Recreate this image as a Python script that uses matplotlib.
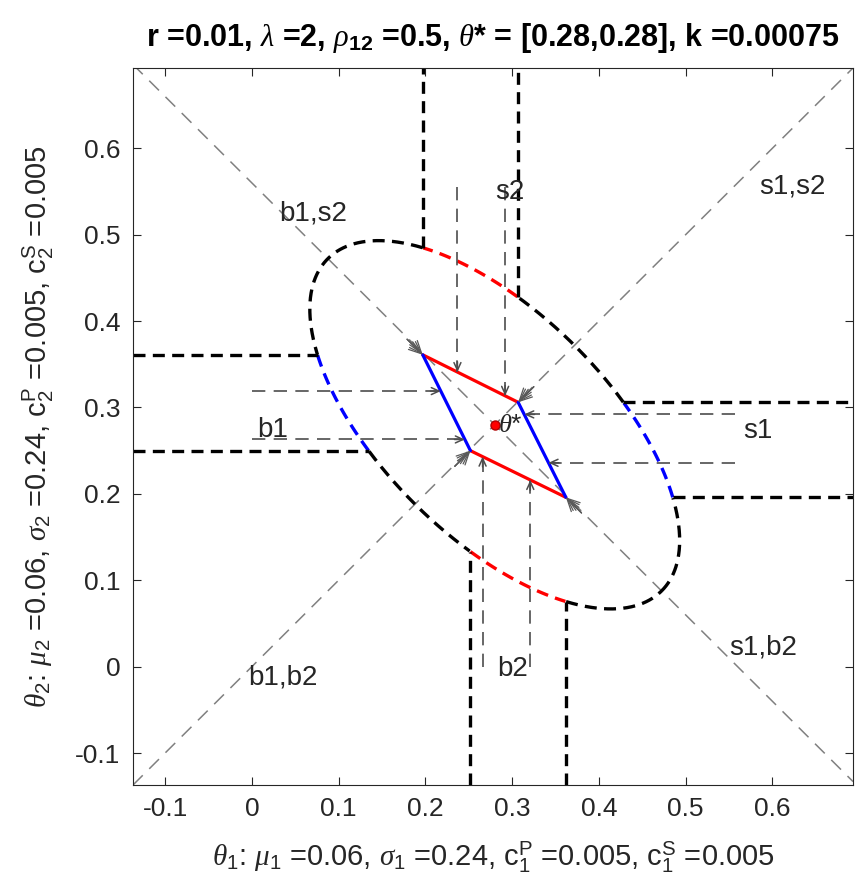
import numpy as np
import matplotlib
matplotlib.use('Agg')
import matplotlib.pyplot as plt

plt.rcParams['font.family'] = ['Liberation Sans', 'DejaVu Sans']
plt.rcParams['mathtext.fontset'] = 'custom'
plt.rcParams['mathtext.rm'] = 'Liberation Sans'
plt.rcParams['mathtext.it'] = 'Liberation Serif:italic'
plt.rcParams['mathtext.bf'] = 'Liberation Sans:bold'

# ---------------- data ----------------
theta_star = [0.28, 0.28]
# parallelogram vertices: TL, TR, BR, BL
vert_x = [0.197, 0.307, 0.362, 0.252]
vert_y = [0.361, 0.306, 0.196, 0.250]
# ellipse semi-axes (major along (1,-1), minor along (1,1))
ell_major = 0.272
ell_minor = 0.130
# thin arrows
top_arrow_x = [0.237, 0.292]
top_arrow_start = 0.555
bottom_arrow_x = [0.266, 0.321]
bottom_arrow_start = 0.0
left_arrow_y = [0.319, 0.263]
left_arrow_start = 0.0
right_arrow_y = [0.292, 0.236]
right_arrow_start = 0.557
# region labels
region_text = ['b1,s2', 's2', 's1,s2', 'b1', 's1', 'b1,b2', 'b2', 's1,b2']
region_x = [0.071, 0.297, 0.623, 0.024, 0.583, 0.036, 0.300, 0.589]
region_y = [0.525, 0.550, 0.556, 0.274, 0.273, -0.012, -0.003, 0.022]
ticks = [-0.1, 0, 0.1, 0.2, 0.3, 0.4, 0.5, 0.6]
tick_labels = ['-0.1', '0', '0.1', '0.2', '0.3', '0.4', '0.5', '0.6']
lim = [-0.137, 0.693]

TXT = '0.15'
fig = plt.figure(figsize=(8.55, 8.9), dpi=100)
ax = fig.add_axes([133/855, 105/890, 720/855, 717/890])
ax.set_xlim(lim)
ax.set_ylim(lim)

cx, cy = theta_star
s2 = np.sqrt(2)

def cross(d):
    # offsets along the other coordinate where a line at offset d meets the ellipse
    ia = 1/(2*ell_major**2); ib = 1/(2*ell_minor**2)
    A = ia + ib
    B = d*(2*ib - 2*ia)
    C = d*d*(ia + ib) - 1
    disc = np.sqrt(B*B - 4*A*C)
    return (-B - disc)/(2*A), (-B + disc)/(2*A)

# diagonal guide lines
dg = dict(color='0.5', lw=1.1, dashes=(9, 6))
ax.plot(lim, lim, **dg)
ax.plot(lim, [cx+cy-lim[0], cx+cy-lim[1]], **dg)

# ellipse
t = np.linspace(0, 2*np.pi, 1441)
u = ell_major*np.cos(t); v = ell_minor*np.sin(t)
ex = cx + (u+v)/s2
ey = cy + (-u+v)/s2
red_top = (ex >= vert_x[0]) & (ex <= vert_x[1]) & (ey > cy)
red_bot = (ex >= vert_x[3]) & (ex <= vert_x[2]) & (ey < cy)
blue_l = (ey >= vert_y[3]) & (ey <= vert_y[0]) & (ex < cx)
blue_r = (ey >= vert_y[2]) & (ey <= vert_y[1]) & (ex > cx)
colored = red_top | red_bot | blue_l | blue_r
hv = dict(lw=2.4, dashes=(3.6, 2.2), solid_capstyle='butt', dash_capstyle='butt')
ax.plot(np.where(colored, np.nan, ex), np.where(colored, np.nan, ey), color='k', **hv)
for m, c in [(red_top, 'r'), (red_bot, 'r'), (blue_l, 'b'), (blue_r, 'b')]:
    ax.plot(ex[m], ey[m], color=c, **hv)

# heavy boundary lines
for x0 in [vert_x[0], vert_x[1]]:
    lo, hi = cross(x0 - cx)
    ax.plot([x0, x0], [cy+hi, lim[1]], color='k', **hv)
for x0 in [vert_x[3], vert_x[2]]:
    lo, hi = cross(x0 - cx)
    ax.plot([x0, x0], [lim[0], cy+lo], color='k', **hv)
for y0 in [vert_y[0], vert_y[3]]:
    lo, hi = cross(y0 - cy)
    ax.plot([lim[0], cx+lo], [y0, y0], color='k', **hv)
for y0 in [vert_y[1], vert_y[2]]:
    lo, hi = cross(y0 - cy)
    ax.plot([cx+hi, lim[1]], [y0, y0], color='k', **hv)

# parallelogram
px = vert_x + [vert_x[0]]
py = vert_y + [vert_y[0]]
ax.plot([px[0], px[1]], [py[0], py[1]], color='r', lw=2.3, solid_capstyle='round')
ax.plot([px[3], px[2]], [py[3], py[2]], color='r', lw=2.3, solid_capstyle='round')
ax.plot([px[0], px[3]], [py[0], py[3]], color='b', lw=2.3, solid_capstyle='round')
ax.plot([px[1], px[2]], [py[1], py[2]], color='b', lw=2.3, solid_capstyle='round')

def interp_edge(p, q, val, axis):
    # point on segment p-q with coordinate[axis]==val
    f = (val - p[axis])/(q[axis]-p[axis])
    return p[1-axis] + f*(q[1-axis]-p[1-axis])

V = list(zip(vert_x, vert_y))
thin = dict(color='0.3', lw=1.2, dashes=(8, 5))
head = dict(arrowstyle='->,head_length=0.55,head_width=0.25', color='0.3', lw=1.1,
            shrinkA=0, shrinkB=0)

def small_arrow(x1, y1, dx, dy):
    ax.annotate('', xy=(x1, y1), xytext=(x1-dx, y1-dy), arrowprops=head)

for xa in top_arrow_x:
    ye = interp_edge(V[0], V[1], xa, 0)
    ax.plot([xa, xa], [top_arrow_start, ye], **thin)
    small_arrow(xa, ye, 0, -0.012)
for xa in bottom_arrow_x:
    ye = interp_edge(V[3], V[2], xa, 0)
    ax.plot([xa, xa], [bottom_arrow_start, ye], **thin)
    small_arrow(xa, ye, 0, 0.012)
for ya in left_arrow_y:
    xe = interp_edge(V[0], V[3], ya, 1)
    ax.plot([left_arrow_start, xe], [ya, ya], **thin)
    small_arrow(xe, ya, 0.012, 0)
for ya in right_arrow_y:
    xe = interp_edge(V[1], V[2], ya, 1)
    ax.plot([right_arrow_start, xe], [ya, ya], **thin)
    small_arrow(xe, ya, -0.012, 0)

# multi-heads along diagonals at vertices
dirs = [(1, -1), (-1, -1), (-1, 1), (1, 1)]
for (vx, vy), (dx, dy) in zip(V, dirs):
    for hw, hl in [(0.15, 0.9), (0.3, 0.9), (0.45, 0.9)]:
        ax.annotate('', xy=(vx, vy), xytext=(vx - dx*0.018, vy - dy*0.018),
                    arrowprops=dict(arrowstyle='->,head_length=%g,head_width=%g' % (hl, hw),
                                    color='0.35', lw=0.9, shrinkA=0, shrinkB=0))

# theta star
ax.plot([cx], [cy], 'o', color='r', mec='#b00000', ms=6.5)
ax.text(cx+0.004, cy, r'$\theta$*', fontsize=19, color=TXT, ha='left', va='center')

for s, x, y in zip(region_text, region_x, region_y):
    ax.text(x, y, s, fontsize=20, color=TXT, ha='center', va='center')

ax.set_xticks(ticks)
ax.set_xticklabels(tick_labels)
ax.set_yticks(ticks)
ax.set_yticklabels(tick_labels)
ax.tick_params(direction='in', length=6, width=0.8, top=True, right=True,
               labelsize=19, colors=TXT, pad=9)
for sp in ax.spines.values():
    sp.set_color(TXT)
    sp.set_linewidth(0.8)

ax.set_xlabel(r'$\theta_1$: $\mu_1$ =0.06, $\sigma_1$ =0.24, c$_1^{\mathrm{P}}$ =0.005, c$_1^{\mathrm{S}}$ =0.005',
              fontsize=21, color=TXT, labelpad=13)
ax.set_ylabel(r'$\theta_2$: $\mu_2$ =0.06, $\sigma_2$ =0.24, c$_2^{\mathrm{P}}$ =0.005, c$_2^{\mathrm{S}}$ =0.005',
              fontsize=21, color=TXT, labelpad=14)
ax.set_title(r'r =0.01, $\lambda$ =2, $\rho_{\mathbf{12}}$ =0.5, $\theta$* = [0.28,0.28], k =0.00075',
             fontsize=22, fontweight='bold', pad=16)

fig.savefig('out.png', dpi=100)
